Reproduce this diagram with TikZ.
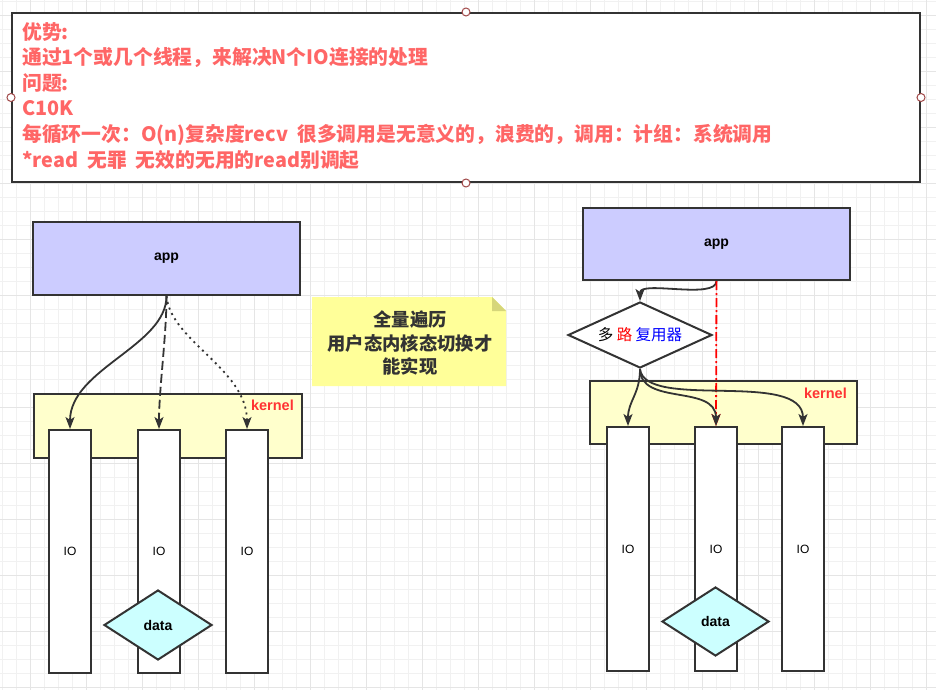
\documentclass[tikz,border=0pt]{standalone}
\usepackage{fontspec}
\setmainfont{Liberation Sans}
\newfontfamily\cjk{Noto Sans CJK SC}
\usepackage{xcolor}
\usepackage{tikz}
\usetikzlibrary{arrows.meta,positioning,shapes.geometric}

\definecolor{lineC}{HTML}{333333}
\definecolor{noteRed}{HTML}{FF6666}
\definecolor{appFill}{HTML}{CCCCFF}
\definecolor{kernelFill}{HTML}{FFFFCC}
\definecolor{noteFill}{HTML}{FFFF99}
\definecolor{foldFill}{HTML}{D6D67A}
\definecolor{dataFill}{HTML}{CCFFFF}
\definecolor{handleC}{HTML}{A04848}
\definecolor{kernelRed}{HTML}{FF3333}

\begin{document}
\begin{tikzpicture}[x=1pt, y=-1pt,
    box/.style={draw=lineC, line width=2pt, inner sep=0pt},
    appbox/.style={box, fill=appFill, minimum width=267pt, minimum height=73pt, font=\bfseries\fontsize{14}{16}\selectfont},
    kernelbox/.style={box, fill=kernelFill, minimum width=268pt, minimum height=64pt},
    iobox/.style={box, fill=white, minimum width=42pt, minimum height=243pt, font=\fontsize{12}{14}\selectfont},
    datanode/.style={box, diamond, aspect=1.54, fill=dataFill, minimum width=108pt, minimum height=70pt, font=\bfseries\fontsize{14}{16}\selectfont},
    kernellbl/.style={text=kernelRed, font=\bfseries\fontsize{14.5}{16}\selectfont, inner sep=0pt},
    handle/.style={circle, draw=handleC, fill=white, line width=1pt, minimum size=8pt, inner sep=0pt},
    conn/.style={draw=lineC, line width=1.8pt, -{Stealth[length=12pt, width=9pt, inset=3pt]}}]

    % Canvas grid
    \useasboundingbox (0,0) rectangle (936,690);
    \fill[white] (0,0) rectangle (936,690);
    \foreach \x in {2,16,...,936} \draw[gray!11, line width=0.8pt] (\x,0) -- (\x,690);
    \foreach \y in {1,15,...,690} \draw[gray!11, line width=0.8pt] (0,\y) -- (936,\y);
    \foreach \x in {30,86,...,936} \draw[gray!20, line width=0.8pt] (\x,0) -- (\x,690);
    \foreach \y in {15,71,...,690} \draw[gray!20, line width=0.8pt] (0,\y) -- (936,\y);

    % Summary box
    \node[box, fill=white, minimum width=908pt, minimum height=169pt] (summary) at (466,97.5) {};
    \node[anchor=north west, align=left, inner sep=0pt, text=noteRed,
          font=\cjk\bfseries\fontsize{19.8}{25.6}\selectfont] (summaryText) at (22,22)
        {优势:\\
         通过1个或几个线程，来解决N个IO连接的处理\\
         问题:\\
         C10K\\
         每循环一次：O(n)复杂度recv\ \ 很多调用是无意义的，浪费的，调用：计组：系统调用\\
         *read\ \ 无罪\ \ 无效的无用的read别调起};
    \node[handle] (hN) at (summary.north) {};
    \node[handle] (hS) at (summary.south) {};
    \node[handle] (hW) at (summary.west) {};
    \node[handle] (hE) at (summary.east) {};

    % Left: one call per IO
    \node[appbox] (appL) at (166.5,258.5) {app};
    \node[kernelbox] (kernelL) at (168,426) {};
    \node[kernellbl, below left=7pt and 9pt of kernelL.north east] (kLblL) {kernel};
    \node[iobox] (IO1) at (70,551.5) {IO};
    \node[iobox] (IO2) at (159,551.5) {IO};
    \node[iobox] (IO3) at (247,551.5) {IO};
    \node[datanode] (dataL) at (158,625) {data};

    \draw[conn] (appL.south) .. controls +(0,50) and +(0,-60) .. (IO1.north);
    \draw[conn, dash pattern=on 9pt off 4pt] (appL.south) .. controls +(0,40) and +(0,-40) .. (IO2.north);
    \draw[conn, dash pattern=on 2pt off 4pt] (appL.south) .. controls +(4,45) and +(0,-60) .. (IO3.north);

    % Note
    \fill[noteFill] (312,297) -- (492,297) -- (506,311) -- (506,386) -- (312,386) -- cycle;
    \fill[foldFill] (492,297) -- (506,311) -- (492,311) -- cycle;
    \node[align=center, text=lineC, font=\cjk\bfseries\fontsize{18.3}{23.5}\selectfont] (note) at (410,343)
        {全量遍历\\用户态内核态切换才\\能实现};

    % Right: multiplexer
    \node[appbox, minimum height=72pt] (appR) at (716.5,244) {app};
    \node[box, diamond, aspect=2.18, fill=white, minimum width=144pt, minimum height=66pt,
          font=\cjk\fontsize{15.5}{18}\selectfont] (mux) at (640,335)
        {多 \textcolor{red}{路} \textcolor{blue}{复用器}};
    \node[kernelbox, minimum width=267pt, minimum height=63pt] (kernelR) at (723.5,412.5) {};
    \node[kernellbl, below left=8pt and 11pt of kernelR.north east] (kLblR) {kernel};
    \node[iobox, minimum height=244pt] (IO4) at (628,549) {IO};
    \node[iobox, minimum height=244pt] (IO5) at (716,549) {IO};
    \node[iobox, minimum height=244pt] (IO6) at (803,549) {IO};
    \node[datanode, minimum width=107pt, minimum height=69pt] (dataR) at (715.5,621.5) {data};

    \draw[conn] (appR.south) .. controls (716,300) and (640,280) .. (mux.north);
    \draw[conn, draw=red, fill=red, dash pattern=on 9pt off 3pt on 2pt off 3pt] (appR.south) -- (IO5.north);
    \draw[conn] (mux.south) .. controls +(0,25) and +(0,-25) .. (IO4.north);
    \draw[conn] (mux.south) .. controls +(0,37) and +(0,-42) .. (IO5.north);
    \draw[conn] (mux.south) .. controls +(5,42) and +(0,-57) .. (IO6.north);

\end{tikzpicture}
\end{document}
